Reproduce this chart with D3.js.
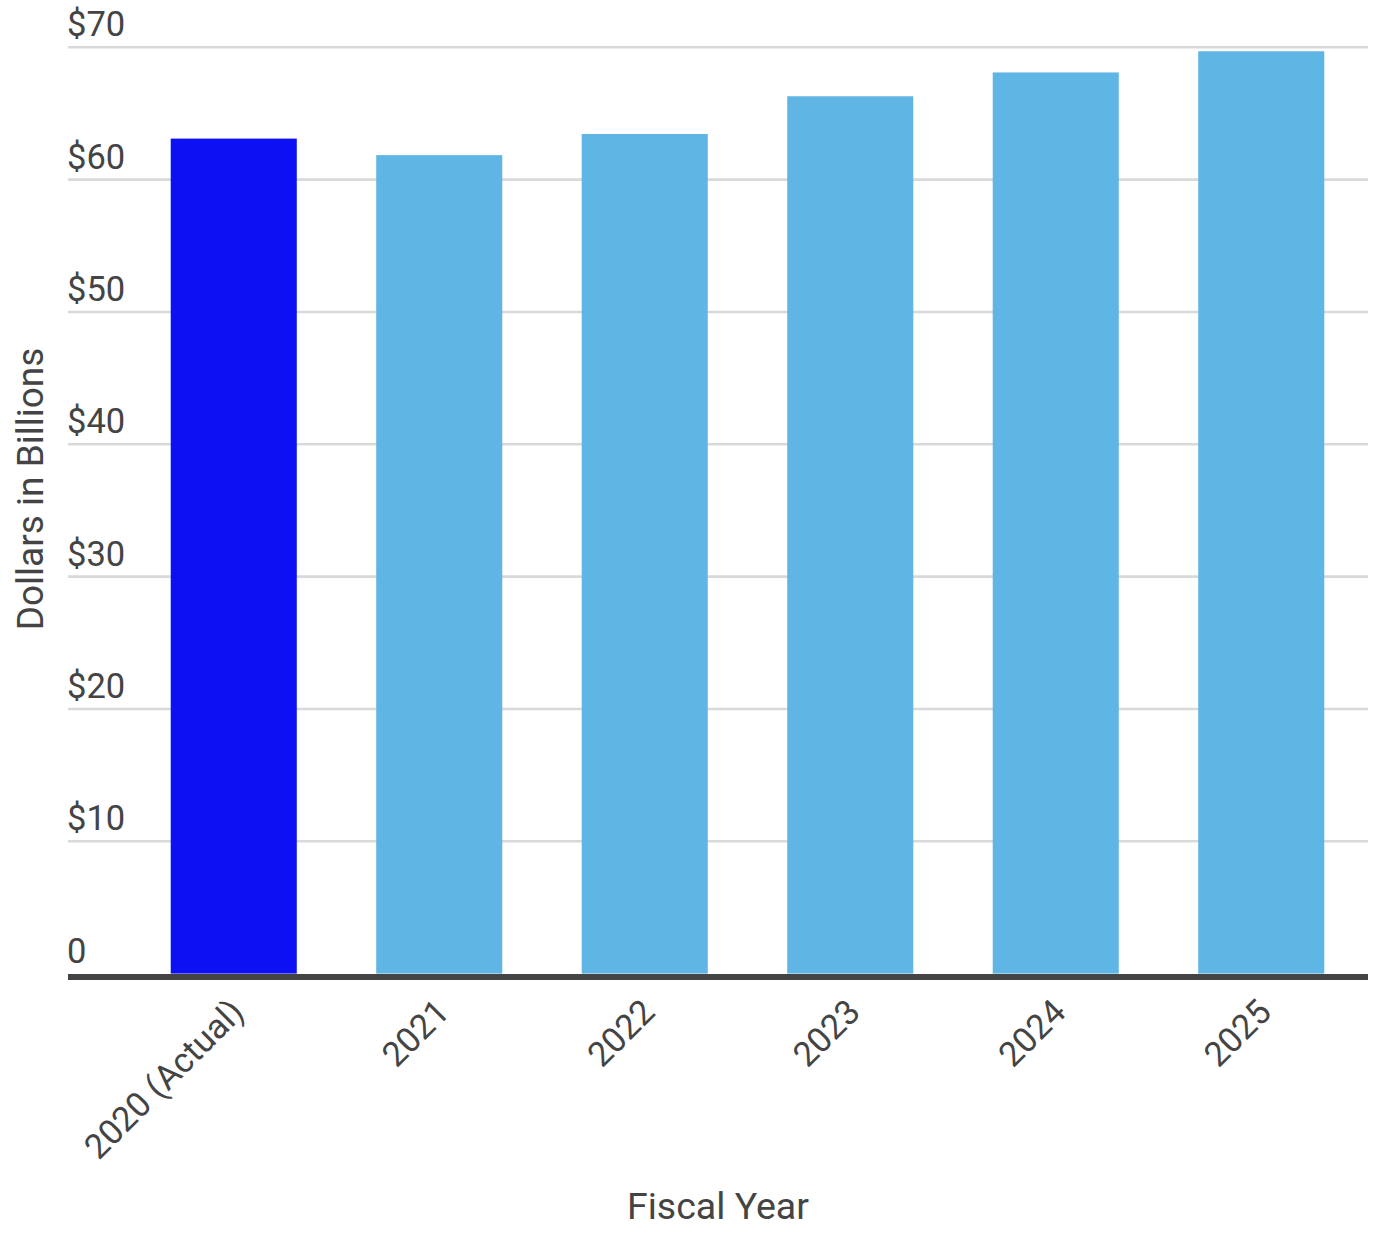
<!DOCTYPE html>
<html>
<head>
<meta charset="utf-8">
<script src="https://cdn.jsdelivr.net/npm/d3@7"></script>
<style>
  body { margin: 0; background: #fff; }
  svg { display: block; font-family: Roboto, "Noto Sans", sans-serif; }
</style>
</head>
<body>
<svg id="chart" width="1374" height="1233"></svg>
<script>
const years = ['2020 (Actual)', '2021', '2022', '2023', '2024', '2025'];
const spending = [63.1, 61.85, 63.45, 66.3, 68.1, 69.7];
const barColours = ['#0c10f2', '#5fb5e3', '#5fb5e3', '#5fb5e3', '#5fb5e3', '#5fb5e3'];
const yTicks = [0, 10, 20, 30, 40, 50, 60, 70];

const svg = d3.select('#chart');
const textColour = '#444';

const x = d3.scaleBand()
  .domain(years)
  .range([131, 1364])
  .paddingInner(0.3866)
  .paddingOuter(0.1933);

const y = d3.scaleLinear().domain([0, 70]).range([973.6, 47.3]);

// gridlines
svg.append('g')
  .selectAll('line')
  .data(yTicks.filter(d => d > 0))
  .enter()
  .append('line')
  .attr('x1', 68).attr('x2', 1368)
  .attr('y1', d => y(d)).attr('y2', d => y(d))
  .attr('stroke', '#d9d9d9')
  .attr('stroke-width', 2.6);

// y tick labels
svg.append('g')
  .selectAll('text')
  .data(yTicks)
  .enter()
  .append('text')
  .attr('x', 67)
  .attr('y', d => y(d) - 11)
  .attr('fill', textColour)
  .style('font-size', '34.5px')
  .text(d => d === 0 ? '0' : '$' + d);

// bars
svg.append('g')
  .selectAll('rect')
  .data(years)
  .enter()
  .append('rect')
  .attr('x', d => x(d))
  .attr('width', x.bandwidth())
  .attr('y', (d, i) => y(spending[i]))
  .attr('height', (d, i) => y(0) - y(spending[i]))
  .attr('fill', (d, i) => barColours[i]);

// baseline
svg.append('line')
  .attr('x1', 68).attr('x2', 1368)
  .attr('y1', y(0) + 3.4).attr('y2', y(0) + 3.4)
  .attr('stroke', '#444')
  .attr('stroke-width', 6);

// x tick labels
svg.append('g')
  .selectAll('text')
  .data(years)
  .enter()
  .append('text')
  .attr('text-anchor', 'end')
  .attr('transform', d => `translate(${x(d) + x.bandwidth() / 2 + 12},1014) rotate(-45)`)
  .attr('fill', textColour)
  .style('font-size', '34.5px')
  .text(d => d);

// axis titles
svg.append('text')
  .attr('x', 718).attr('y', 1219)
  .attr('text-anchor', 'middle')
  .attr('fill', textColour)
  .style('font-size', '37.5px')
  .text('Fiscal Year');

svg.append('text')
  .attr('transform', 'translate(43,489) rotate(-90)')
  .attr('text-anchor', 'middle')
  .attr('fill', textColour)
  .style('font-size', '37px')
  .text('Dollars in Billions');
</script>
</body>
</html>
